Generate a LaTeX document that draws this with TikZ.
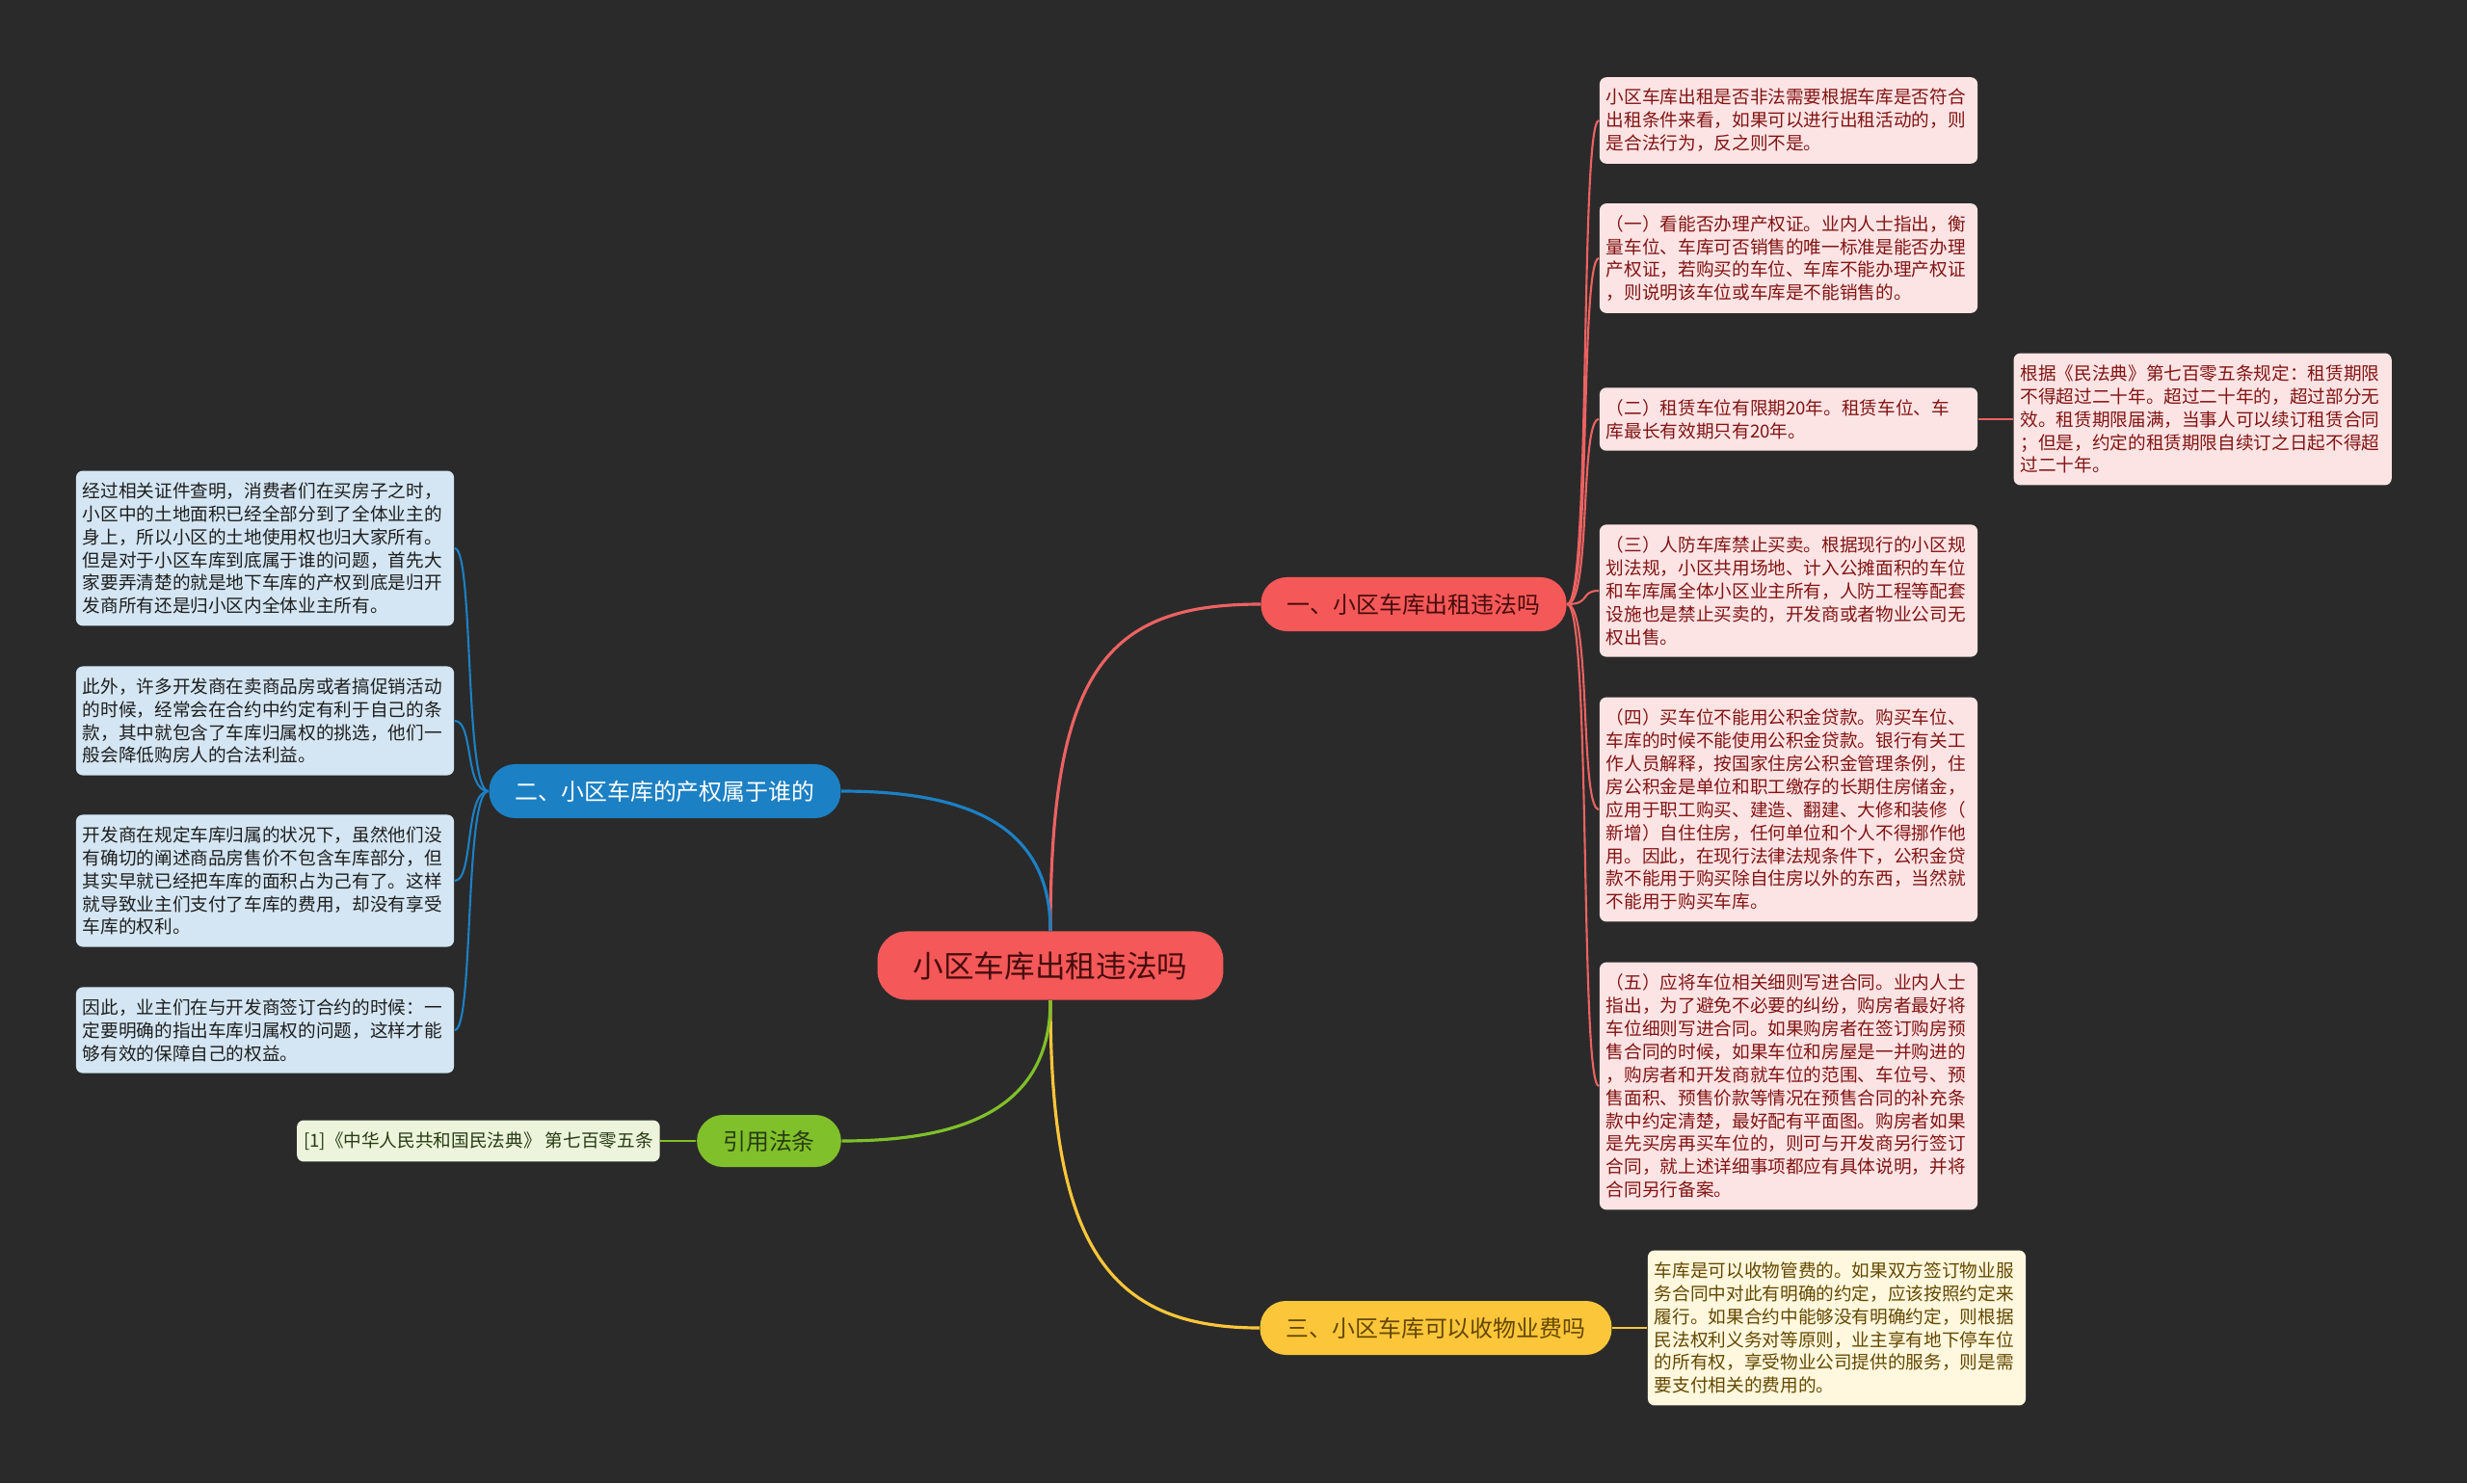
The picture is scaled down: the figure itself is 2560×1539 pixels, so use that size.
\documentclass[tikz,border=0pt]{standalone}
\usepackage{fontspec}
\setmainfont{Noto Sans CJK SC}
\usepackage{xcolor}
\usepackage{tikz}
\usetikzlibrary{positioning, calc}
\definecolor{bgdark}{RGB}{42, 42, 42}
\definecolor{rootred}{RGB}{245, 88, 88}
\definecolor{rootink}{RGB}{70, 12, 12}
\definecolor{redline}{RGB}{236, 98, 98}
\definecolor{redleaf}{RGB}{253, 228, 228}
\definecolor{redink}{RGB}{130, 20, 20}
\definecolor{bluemain}{RGB}{28, 128, 196}
\definecolor{blueleaf}{RGB}{212, 230, 243}
\definecolor{blueink}{RGB}{30, 30, 30}
\definecolor{yellowmain}{RGB}{252, 198, 58}
\definecolor{yellowleaf}{RGB}{255, 248, 222}
\definecolor{yellowink}{RGB}{100, 72, 0}
\definecolor{greenmain}{RGB}{128, 192, 42}
\definecolor{greenleaf}{RGB}{236, 245, 220}
\definecolor{greenink}{RGB}{40, 60, 20}

\tikzset{
    topic/.style={rounded corners=0.27cm, minimum height=0.56cm, inner xsep=0.27cm,
                  font=\fontsize{6.8}{8}\selectfont},
    leaf/.style={rounded corners=0.07cm, inner xsep=0.07cm, inner ysep=0.12cm,
                 text width=3.78cm, align=left, font=\fontsize{5.3}{6.8}\selectfont},
    mainline/.style={line width=0.9pt},
    subline/.style={line width=0.6pt}
}

\begin{document}
\begin{tikzpicture}[x=0.01cm, y=-0.01cm]
    \fill[bgdark] (0,0) rectangle (2560,1539);
    \useasboundingbox (0,0) rectangle (2560,1539);

    % Nodes
    \node[fill=rootred, text=rootink, rounded corners=0.3cm, minimum height=0.71cm,
          inner xsep=0.37cm, font=\fontsize{9}{11}\selectfont] (root) at (1090,1002) {小区车库出租违法吗};

    \node[topic, fill=rootred, text=rootink] (one) at (1467,627) {一、小区车库出租违法吗};
    \node[topic, fill=bluemain, text=white] (two) at (690,821) {二、小区车库的产权属于谁的};
    \node[topic, fill=yellowmain, text=yellowink] (three) at (1490,1378) {三、小区车库可以收物业费吗};
    \node[topic, fill=greenmain, text=greenink, minimum height=0.54cm] (four) at (798,1184) {引用法条};

    \node[leaf, fill=redleaf, text=redink] (rentok) at (1856,125) {小区车库出租是否非法需要根据车库是否符合\\出租条件来看，如果可以进行出租活动的，则\\是合法行为，反之则不是。};
    \node[leaf, fill=redleaf, text=redink] (deed) at (1856,268) {（一）看能否办理产权证。业内人士指出，衡\\量车位、车库可否销售的唯一标准是能否办理\\产权证，若购买的车位、车库不能办理产权证\\，则说明该车位或车库是不能销售的。};
    \node[leaf, fill=redleaf, text=redink] (term) at (1856,435) {（二）租赁车位有限期20年。租赁车位、车\\库最长有效期只有20年。};
    \node[leaf, fill=redleaf, text=redink] (civil) at (1856,613) {（三）人防车库禁止买卖。根据现行的小区规\\划法规，小区共用场地、计入公摊面积的车位\\和车库属全体小区业主所有，人防工程等配套\\设施也是禁止买卖的，开发商或者物业公司无\\权出售。};
    \node[leaf, fill=redleaf, text=redink] (fund) at (1856,840) {（四）买车位不能用公积金贷款。购买车位、\\车库的时候不能使用公积金贷款。银行有关工\\作人员解释，按国家住房公积金管理条例，住\\房公积金是单位和职工缴存的长期住房储金，\\应用于职工购买、建造、翻建、大修和装修（\\新增）自住住房，任何单位和个人不得挪作他\\用。因此，在现行法律法规条件下，公积金贷\\款不能用于购买除自住房以外的东西，当然就\\不能用于购买车库。};
    \node[leaf, fill=redleaf, text=redink] (contract) at (1856,1127) {（五）应将车位相关细则写进合同。业内人士\\指出，为了避免不必要的纠纷，购房者最好将\\车位细则写进合同。如果购房者在签订购房预\\售合同的时候，如果车位和房屋是一并购进的\\，购房者和开发商就车位的范围、车位号、预\\售面积、预售价款等情况在预售合同的补充条\\款中约定清楚，最好配有平面图。购房者如果\\是先买房再买车位的，则可与开发商另行签订\\合同，就上述详细事项都应有具体说明，并将\\合同另行备案。};
    \node[leaf, fill=redleaf, text=redink, right=0.36cm of term] (article) {根据《民法典》第七百零五条规定：租赁期限\\不得超过二十年。超过二十年的，超过部分无\\效。租赁期限届满，当事人可以续订租赁合同\\；但是，约定的租赁期限自续订之日起不得超\\过二十年。};

    \node[leaf, fill=blueleaf, text=blueink] (land) at (275,569) {经过相关证件查明，消费者们在买房子之时，\\小区中的土地面积已经全部分到了全体业主的\\身上，所以小区的土地使用权也归大家所有。\\但是对于小区车库到底属于谁的问题，首先大\\家要弄清楚的就是地下车库的产权到底是归开\\发商所有还是归小区内全体业主所有。};
    \node[leaf, fill=blueleaf, text=blueink] (terms) at (275,748) {此外，许多开发商在卖商品房或者搞促销活动\\的时候，经常会在合约中约定有利于自己的条\\款，其中就包含了车库归属权的挑选，他们一\\般会降低购房人的合法利益。};
    \node[leaf, fill=blueleaf, text=blueink] (price) at (275,914) {开发商在规定车库归属的状况下，虽然他们没\\有确切的阐述商品房售价不包含车库部分，但\\其实早就已经把车库的面积占为己有了。这样\\就导致业主们支付了车库的费用，却没有享受\\车库的权利。};
    \node[leaf, fill=blueleaf, text=blueink] (advice) at (275,1069) {因此，业主们在与开发商签订合约的时候：一\\定要明确的指出车库归属权的问题，这样才能\\够有效的保障自己的权益。};

    \node[leaf, fill=yellowleaf, text=yellowink, right=0.36cm of three] (fee) {车库是可以收物管费的。如果双方签订物业服\\务合同中对此有明确的约定，应该按照约定来\\履行。如果合约中能够没有明确约定，则根据\\民法权利义务对等原则，业主享有地下停车位\\的所有权，享受物业公司提供的服务，则是需\\要支付相关的费用的。};

    \node[leaf, fill=greenleaf, text=greenink, text width=, left=0.37cm of four] (law) {[1]《中华人民共和国民法典》 第七百零五条};

    % Connectors
    \draw[mainline, redline] (root.north) .. controls +(0,-270) and +(-160,0) .. (one.west);
    \draw[mainline, bluemain] (root.north) .. controls +(0,-110) and +(130,0) .. (two.east);
    \draw[mainline, yellowmain] (root.south) .. controls +(0,250) and +(-160,0) .. (three.west);
    \draw[mainline, greenmain] (root.south) .. controls +(0,110) and +(130,0) .. (four.east);

    \draw[subline, redline] (one.east) .. controls +(25,0) and +(-20,0) .. (rentok.west);
    \draw[subline, redline] (one.east) .. controls +(25,0) and +(-20,0) .. (deed.west);
    \draw[subline, redline] (one.east) .. controls +(25,0) and +(-20,0) .. (term.west);
    \draw[subline, redline] (one.east) .. controls +(25,0) and +(-20,0) .. (civil.west);
    \draw[subline, redline] (one.east) .. controls +(25,0) and +(-20,0) .. (fund.west);
    \draw[subline, redline] (one.east) .. controls +(25,0) and +(-20,0) .. (contract.west);
    \draw[subline, redline] (term) -- (article);

    \draw[subline, bluemain] (two.west) .. controls +(-25,0) and +(20,0) .. (land.east);
    \draw[subline, bluemain] (two.west) .. controls +(-25,0) and +(20,0) .. (terms.east);
    \draw[subline, bluemain] (two.west) .. controls +(-25,0) and +(20,0) .. (price.east);
    \draw[subline, bluemain] (two.west) .. controls +(-25,0) and +(20,0) .. (advice.east);

    \draw[subline, yellowmain] (three) -- (fee);
    \draw[subline, greenmain] (law) -- (four);
\end{tikzpicture}
\end{document}
